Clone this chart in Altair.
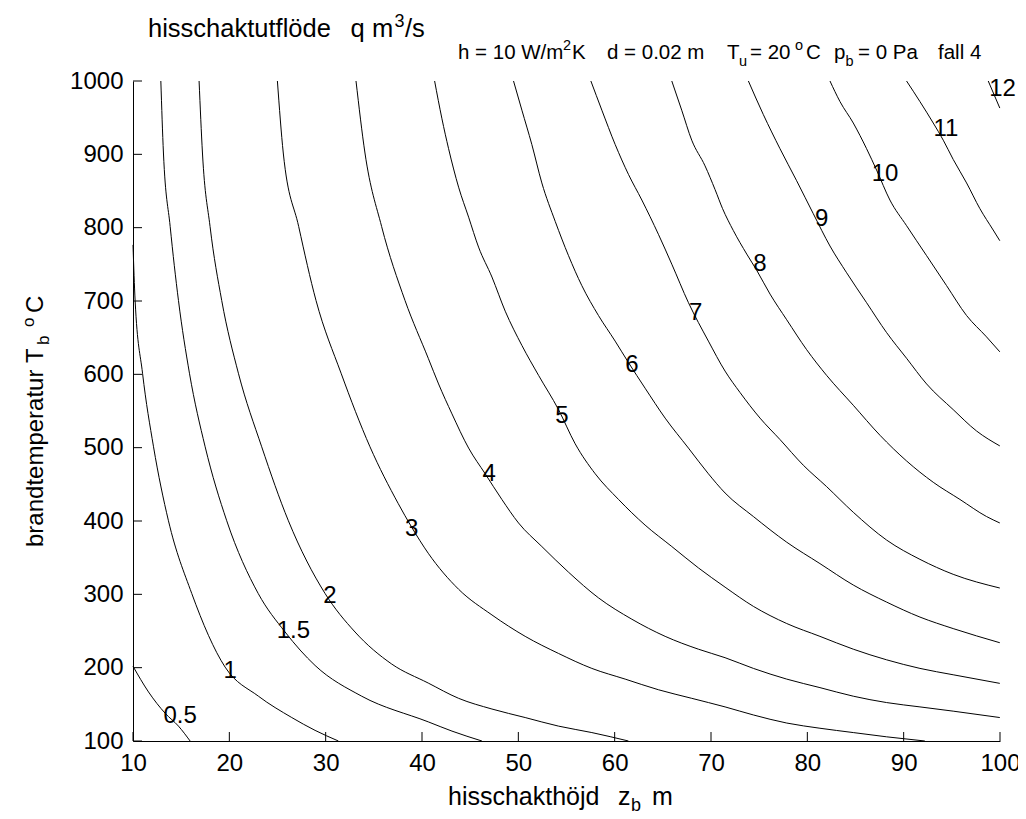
import altair as alt
import pandas as pd

FONT = "Liberation Sans"

# ---------------- data ----------------
x_ticks = [10, 20, 30, 40, 50, 60, 70, 80, 90, 100]
y_ticks = [100, 200, 300, 400, 500, 600, 700, 800, 900, 1000]

z_05 = [10.0, 11.61, 13.34, 14.72, 15.93]
T_05 = [201.9, 166.9, 137.8, 120.3, 100.0]

z_1 = [10.0, 10.22, 10.99, 12.13, 13.68, 16.10, 19.56, 23.02, 26.48, 28.90, 31.32]
T_1 = [776.5, 700.6, 601.5, 501.2, 400.3, 301.1, 200.8, 161.1, 132.0, 114.5, 100.0]

z_15 = [12.89, 13.16, 13.86, 14.72, 15.86, 17.49, 19.73, 23.0, 25.79, 28.90, 33.74, 40.65, 43.11, 46.22]
T_15 = [1000, 901.8, 801.5, 700.6, 601.5, 501.2, 400.3, 301.1, 248.6, 203.0, 161.1, 126.1, 113.5, 100.0]

z_2 = [16.86, 17.21, 18.0, 19.21, 20.94, 23.36, 26.13, 29.94, 33.05, 36.85, 40.65, 43.80, 47.26,
       50.71, 54.17, 57.63, 61.43]
T_2 = [1000, 901.8, 801.5, 700.6, 601.5, 501.2, 400.3, 301.1, 248.6, 205.0, 179.0, 158.2, 143.6,
       132.0, 120.3, 111.5, 100.0]

z_3 = [24.99, 25.6, 27.2, 29.0, 31.6, 34.6, 37.54, 38.93, 40.65, 43.80, 47.26, 50.71, 54.17,
       57.63, 61.09, 64.54, 68.0, 71.46, 74.4, 77.86, 81.31, 84.77, 88.23, 92.2]
T_3 = [1000, 901.8, 801.5, 700.6, 601.5, 501.2, 423.6, 391.5, 356.0, 306.9, 271.9, 242.7, 219.4,
       199.0, 184.4, 169.9, 158.2, 146.5, 135.5, 124.5, 117.4, 111.5, 105.7, 100.0]

z_4 = [33.15, 34.08, 35.81, 38.24, 40.65, 41.72, 43.11, 44.84, 46.56, 48.29, 50.02, 52.44, 55.21,
       58.32, 61.78, 65.24, 68.69, 71.46, 74.4, 77.86, 81.31, 84.77, 88.23, 91.69, 95.14, 99.98]
T_4 = [1000, 901.8, 801.5, 700.6, 621.9, 586.9, 546.1, 499.4, 464.4, 429.4, 397.3, 365.2, 330.2,
       295.2, 266.1, 242.7, 225.2, 213.6, 199.0, 184.4, 172.8, 161.1, 152.4, 146.5, 140.7, 132.0]

z_5 = [41.31, 42.07, 42.76, 43.80, 44.84, 45.87, 47.26, 48.64, 50.37, 52.1, 54.17, 55.9, 57.98,
       60.4, 63.16, 65.93, 68.69, 71.46, 74.4, 77.86, 81.31, 84.77, 88.23, 91.69, 95.14, 99.98]
T_5 = [1000, 948.5, 907.7, 855.2, 814.3, 773.5, 732.7, 686.1, 639.4, 598.6, 551.9, 505.3, 464.4,
       429.4, 394.4, 365.2, 336.1, 309.8, 283.6, 260.2, 242.7, 225.2, 210.7, 199.0, 190.3, 178.6]

z_6 = [49.5, 50.37, 51.4, 52.44, 53.83, 55.21, 56.59, 58.32, 60.05, 61.43, 63.16, 65.24, 67.66,
       69.73, 71.46, 74.4, 77.86, 81.31, 84.77, 88.23, 91.69, 95.14, 99.98]
T_6 = [1000, 960.2, 913.5, 861.0, 808.5, 761.8, 721.0, 680.2, 645.3, 616.1, 581.1, 540.3, 499.4,
       464.4, 438.2, 406.1, 371.1, 341.9, 312.7, 289.4, 269.0, 253.3, 234.0]

z_7 = [57.53, 58.67, 60.05, 61.43, 62.82, 64.54, 65.93, 67.66, 69.73, 71.46, 73.01, 75.09, 77.16,
       79.58, 82.0, 84.77, 88.23, 91.69, 95.14, 99.98]
T_7 = [1000, 960.2, 913.5, 872.7, 837.7, 791.0, 750.2, 697.7, 645.3, 604.4, 575.3, 540.3, 511.1,
       476.1, 446.9, 411.9, 374.0, 347.7, 327.3, 308.6]

z_8 = [65.93, 66.96, 68.0, 69.38, 70.42, 71.2, 72.32, 73.71, 74.74, 76.13, 77.86, 79.93, 82.0,
       84.77, 87.54, 90.3, 93.07, 95.84, 98.6, 99.98]
T_8 = [1000, 960.2, 919.3, 884.3, 852.0, 826.0, 796.0, 764.0, 742.0, 709.4, 674.4, 633.6, 598.6,
       557.8, 516.9, 481.9, 452.8, 429.4, 406.1, 397.3]

z_9 = [73.88, 75.43, 77.16, 78.89, 80.62, 82.35, 84.08, 86.15, 88.23, 90.3, 92.38, 95.14, 97.56, 99.98]
T_9 = [1000, 954.3, 907.7, 864.0, 819.0, 775.0, 738.5, 697.7, 656.9, 621.9, 586.9, 551.9, 522.8, 502.4]

z_10 = [82.35, 83.39, 84.77, 86.15, 87.19, 88.57, 90.3, 92.38, 94.45, 96.53, 98.6, 99.98]
T_10 = [1000, 971.9, 942.7, 907.7, 878.5, 837.7, 802.7, 761.8, 721.0, 680.2, 651.1, 630.7]

z_11 = [90.3, 91.69, 93.07, 94.11, 95.14, 96.53, 97.91, 99.29, 99.98]
T_11 = [1000, 971.9, 942.7, 919.3, 893.1, 861.0, 826.0, 796.8, 782.2]

z_12 = [98.78, 99.98]
T_12 = [1000, 963.1]

levels = ["0.5", "1", "1.5", "2", "3", "4", "5", "6", "7", "8", "9", "10", "11", "12"]
lines_z = [z_05, z_1, z_15, z_2, z_3, z_4, z_5, z_6, z_7, z_8, z_9, z_10, z_11, z_12]
lines_T = [T_05, T_1, T_15, T_2, T_3, T_4, T_5, T_6, T_7, T_8, T_9, T_10, T_11, T_12]

lab_z = [14.89, 20.08, 26.65, 30.45, 38.93, 46.98, 54.52, 61.78, 68.42, 75.09, 81.49, 88.06, 94.38, 100.26]
lab_T = [133.7, 196.1, 250.4, 298.2, 388.6, 464.4, 543.2, 613.2, 683.2, 750.2, 811.4, 872.7, 934.0, 989.5]

# ---------------- tables ----------------
rows = []
for lev, zs, ts in zip(levels, lines_z, lines_T):
    for i, (z, t) in enumerate(zip(zs, ts)):
        rows.append({"level": lev, "i": i, "z": z, "T": t})
df_lines = pd.DataFrame(rows)
df_labels = pd.DataFrame({"text": levels, "z": lab_z, "T": lab_T})

# ---------------- layout ----------------
W, H = 867, 660
OX, OY = 133, 81  # page position of the plot origin

xscale = alt.Scale(domain=[10, 100], nice=False, zero=False)
yscale = alt.Scale(domain=[100, 1000], nice=False, zero=False)

xaxis = alt.Axis(values=x_ticks, ticks=False, tickSize=0, grid=False, title=None, format="d",
                 domainColor="black", domainWidth=1, labelFont=FONT, labelFontSize=24,
                 labelColor="black", labelPadding=10, labelFlush=False, labelOverlap=False)
yaxis = alt.Axis(values=y_ticks, ticks=False, tickSize=0, grid=False, title=None, format="d",
                 domainColor="black", domainWidth=1, labelFont=FONT, labelFontSize=24,
                 labelColor="black", labelPadding=10, labelFlush=False, labelOverlap=False)

contours = alt.Chart(df_lines).mark_line(color="black", strokeWidth=1, interpolate="monotone").encode(
    x=alt.X("z:Q", scale=xscale, axis=xaxis),
    y=alt.Y("T:Q", scale=yscale, axis=yaxis),
    detail="level:N",
    order="i:Q",
)

labels = alt.Chart(df_labels).mark_text(
    font=FONT, fontSize=24, color="black", align="center", baseline="middle"
).encode(x=alt.X("z:Q", scale=xscale), y=alt.Y("T:Q", scale=yscale), text="text:N")

xt = alt.Chart(pd.DataFrame({"v": x_ticks})).mark_rule(color="black", strokeWidth=1).encode(
    x=alt.X("v:Q", scale=xscale), y=alt.value(H), y2=alt.value(H - 9))
yt = alt.Chart(pd.DataFrame({"v": y_ticks})).mark_rule(color="black", strokeWidth=1).encode(
    y=alt.Y("v:Q", scale=yscale), x=alt.value(0), x2=alt.value(9))


def txt(s, x, y, size, angle=0):
    kw = dict(font=FONT, fontSize=size, color="black", align="left", baseline="alphabetic")
    if angle:
        kw["angle"] = angle
    return alt.Chart(pd.DataFrame({"s": [s]})).mark_text(**kw).encode(
        x=alt.value(x - OX), y=alt.value(y - OY), text="s:N")


texts = [
    # title
    txt("hisschaktutflöde", 148, 36.7, 25.5),
    txt("q", 350.5, 36.7, 25.5),
    txt("m", 372, 36.7, 25.5),
    txt("3", 394.5, 26.5, 18),
    txt("/s", 405, 36.7, 25.5),
    # parameters
    txt("h = 10 W/m", 458, 58.5, 20.5),
    txt("2", 563, 50, 14.5),
    txt("K", 572, 58.5, 20.5),
    txt("d = 0.02 m", 607, 58.5, 20.5),
    txt("T", 727, 58.5, 20.5),
    txt("u", 739, 66, 14.5),
    txt("= 20", 750, 58.5, 20.5),
    txt("o", 795, 50, 14.5),
    txt("C", 806, 58.5, 20.5),
    txt("p", 834, 58.5, 20.5),
    txt("b", 845.5, 66, 14.5),
    txt("= 0 Pa", 858, 58.5, 20.5),
    txt("fall 4", 938, 58.5, 20.5),
    # x title
    txt("hisschakthöjd", 448, 805, 25),
    txt("z", 618, 805, 25),
    txt("b", 631, 811, 18),
    txt("m", 652, 805, 25),
    # y title (rotated)
    txt("brandtemperatur", 43, 547, 24, 270),
    txt("T", 43, 363, 24, 270),
    txt("b", 49, 345, 17, 270),
    txt("o", 34, 327, 17, 270),
    txt("C", 43, 313, 24, 270),
]

chart = alt.layer(contours, labels, xt, yt, *texts).properties(
    width=W, height=H,
    autosize=alt.AutoSizeParams(type="none"),
    padding={"left": OX - 8, "top": OY - 8, "right": 1026 - 8 - OX - W, "bottom": 819 - 8 - OY - H},
    background="white",
).configure_view(stroke=None)

chart.save("out.html", embed_options={"renderer": "svg", "actions": False})
